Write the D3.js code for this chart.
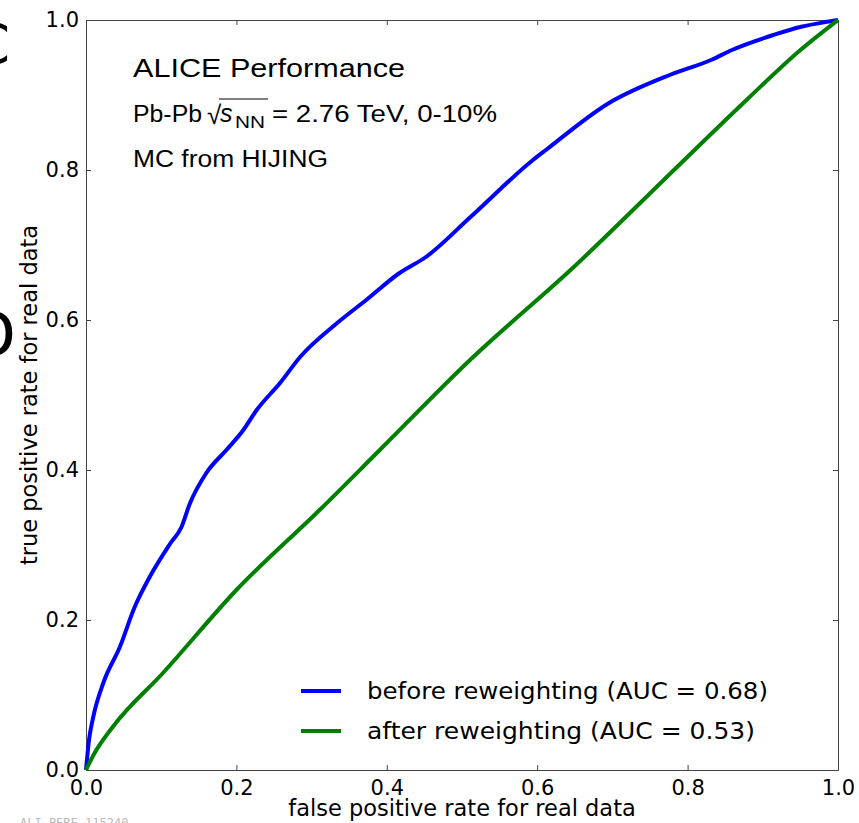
<!DOCTYPE html>
<html>
<head>
<meta charset="utf-8">
<script src="https://cdn.jsdelivr.net/npm/d3@7"></script>
<style>
  body { margin: 0; background: #fff; }
  svg { display: block; }
  .tick text { font-family: "DejaVu Sans", sans-serif; font-size: 21px; fill: #000; }
  .axis-label { font-family: "DejaVu Sans", sans-serif; font-size: 22.5px; }
  .note { font-family: "Liberation Sans", Arial, sans-serif; }
</style>
</head>
<body>
<svg id="chart"></svg>
<script>
// ROC curves
let blueFpr = [0, 0.004, 0.0097, 0.023, 0.045, 0.065, 0.085, 0.112, 0.127, 0.138, 0.160, 0.187, 0.209, 0.227, 0.258, 0.285, 0.334, 0.373, 0.416, 0.452, 0.512, 0.594, 0.612, 0.695, 0.777, 0.832, 0.859, 0.914, 0.951, 0.988, 1.0]
let blueTpr = [0, 0.04, 0.071, 0.116, 0.164, 0.218, 0.258, 0.302, 0.324, 0.355, 0.396, 0.427, 0.453, 0.48, 0.516, 0.551, 0.596, 0.627, 0.662, 0.684, 0.738, 0.813, 0.827, 0.889, 0.927, 0.947, 0.96, 0.98, 0.991, 0.998, 1.0]

let greenFpr = [0, 0.01, 0.036, 0.103, 0.2, 0.311, 0.391, 0.511, 0.649, 0.786, 0.878, 0.95, 1.0]
let greenTpr = [0, 0.02, 0.058, 0.13, 0.24, 0.347, 0.427, 0.547, 0.671, 0.804, 0.893, 0.96, 1.0]

let tickValues = [0, 0.2, 0.4, 0.6, 0.8, 1.0]
let legendLabels = ["before reweighting (AUC = 0.68)", "after reweighting (AUC = 0.53)"]
let seriesColors = ["#0000ff", "#008000"]

var W = 859, H = 823
var margin = { left: 86, top: 20, right: 21, bottom: 53 }
var width = W - margin.left - margin.right,
    height = H - margin.top - margin.bottom

var svg = d3.select("#chart").attr("width", W).attr("height", H)
var g = svg.append("g").attr("transform", "translate(" + margin.left + "," + margin.top + ")")

var x = d3.scaleLinear().domain([0, 1]).range([0, width])
var y = d3.scaleLinear().domain([0, 1]).range([height, 0])

// axes, ticks pointing inward (matplotlib classic)
g.append("g").attr("class", "axis")
    .attr("transform", "translate(0," + height + ")")
    .call(d3.axisBottom(x).tickValues(tickValues).tickFormat(d3.format(".1f")).tickSizeInner(-5).tickSizeOuter(0).tickPadding(10))
g.append("g").attr("class", "axis")
    .call(d3.axisLeft(y).tickValues(tickValues).tickFormat(d3.format(".1f")).tickSizeInner(-5).tickSizeOuter(0).tickPadding(7))
g.append("g").attr("class", "axis")
    .call(d3.axisTop(x).tickValues(tickValues).tickFormat("").tickSizeInner(-5).tickSizeOuter(0))
g.append("g").attr("class", "axis")
    .attr("transform", "translate(" + width + ",0)")
    .call(d3.axisRight(y).tickValues(tickValues).tickFormat("").tickSizeInner(-5).tickSizeOuter(0))

g.selectAll(".axis path").attr("stroke", "#444")
g.selectAll(".axis line").attr("stroke", "#444")

var line = d3.line().curve(d3.curveMonotoneX).x(d => x(d[0])).y(d => y(d[1]))

var series = [d3.zip(blueFpr, blueTpr), d3.zip(greenFpr, greenTpr)]
series.forEach(function (s, i) {
    g.append("path")
        .datum(s)
        .attr("fill", "none")
        .attr("stroke", seriesColors[i])
        .attr("stroke-width", 4)
        .attr("stroke-linejoin", "round")
        .attr("d", line)
})

// axis labels
svg.append("text").attr("class", "axis-label")
    .attr("x", margin.left + width / 2).attr("y", 816)
    .attr("text-anchor", "middle")
    .text("false positive rate for real data")
svg.append("text").attr("class", "axis-label")
    .attr("transform", "translate(37," + (margin.top + height / 2) + ") rotate(-90)")
    .attr("text-anchor", "middle")
    .text("true positive rate for real data")

// legend
var legendWidths = [401, 388]
var legend = svg.append("g")
legendLabels.forEach(function (lab, i) {
    var ly = 691 + i * 40
    legend.append("line")
        .attr("x1", 301).attr("x2", 341).attr("y1", ly).attr("y2", ly)
        .attr("stroke", seriesColors[i]).attr("stroke-width", 4)
    legend.append("text")
        .attr("x", 367).attr("y", ly + 8)
        .attr("textLength", legendWidths[i]).attr("lengthAdjust", "spacingAndGlyphs")
        .style("font-family", "DejaVu Sans, sans-serif").style("font-size", "23.5px")
        .text(lab)
})

// ALICE annotation
function note(txt, x0, y0, size, len) {
    var t = svg.append("text").attr("class", "note")
        .attr("x", x0).attr("y", y0).style("font-size", size + "px")
        .text(txt)
    if (len) t.attr("textLength", len).attr("lengthAdjust", "spacingAndGlyphs")
    return t
}
note("ALICE Performance", 133, 77, 26, 272)
note("Pb-Pb", 133, 122, 23, 69)
note("\u221A", 207, 124, 26)
svg.append("line")
    .attr("x1", 219).attr("x2", 268).attr("y1", 99).attr("y2", 99)
    .attr("stroke", "#000").attr("stroke-width", 1.2)
note("s", 220, 122, 25).style("font-style", "italic")
note("NN", 235, 128, 16, 30)
note("= 2.76 TeV, 0-10%", 272, 122, 23, 225)
note("MC from HIJING", 133, 167, 23, 195)

// cropped slide letters on the left edge
svg.append("text").attr("x", 10).attr("y", 63).attr("text-anchor", "end")
    .style("font-family", "DejaVu Sans, sans-serif").style("font-size", "56px").text("C")
svg.append("text").attr("x", 16).attr("y", 357).attr("text-anchor", "end")
    .style("font-family", "DejaVu Sans, sans-serif").style("font-size", "64px").text("D")

svg.append("text").attr("x", 20).attr("y", 827)
    .style("font-family", "DejaVu Sans Mono, monospace").style("font-size", "12px").attr("fill", "#bbb")
    .text("ALI-PERF-115240")
</script>
</body>
</html>
